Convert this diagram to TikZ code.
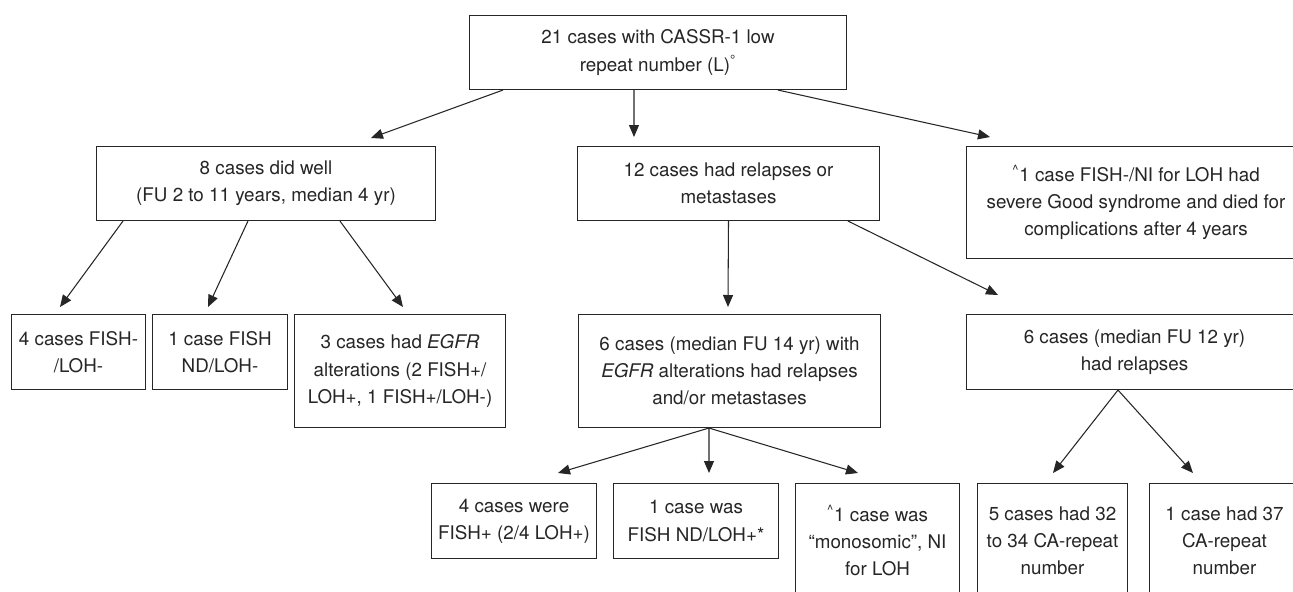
\documentclass[tikz,border=0pt]{standalone}
\usepackage{fontspec}
\setmainfont{TeX Gyre Heros}
\usetikzlibrary{arrows.meta}

\begin{document}
\begin{tikzpicture}[x=0.02cm, y=-0.02cm,
    box/.style={draw=black!85, line width=0.6pt, anchor=north west, align=center,
        inner xsep=2pt, text=black!85, font=\fontsize{10.7}{15.4}\selectfont},
    arr/.style={draw=black!85, line width=0.6pt, -{Triangle[length=0.24cm, width=0.2cm]}}]
    \fill[white] (0,0) rectangle (1293,591);
    \useasboundingbox (0,0) rectangle (1293,591);
    \clip (0,0) rectangle (1293,591);

    % top
    \node[box, minimum width=7.54cm, minimum height=1.48cm] (root) at (469,15) {21 cases with CASSR-1 low\\repeat number (L)\textsuperscript{\textdegree}};

    % second row
    \node[box, minimum width=6.78cm, minimum height=1.48cm] (well) at (96,146) {8 cases did well\\(FU 2 to 11 years, median 4 yr)};
    \node[box, minimum width=6.04cm, minimum height=1.48cm] (relmet) at (577,146) {12 cases had relapses or\\metastases};
    \node[box, minimum width=6.78cm, minimum height=2.24cm] (died) at (966,146) {\textsuperscript{\^{}}1 case FISH-/NI for LOH had\\severe Good syndrome and died for\\complications after 4 years};

    % third row
    \node[box, minimum width=2.68cm, minimum height=1.5cm] (fneg) at (11,314) {4 cases FISH-\\/LOH-};
    \node[box, minimum width=2.7cm, minimum height=1.5cm] (fnd) at (152,314) {1 case FISH\\ND/LOH-};
    \node[box, minimum width=4.22cm, minimum height=2.26cm] (egfrw) at (294,314) {3 cases had \textit{EGFR}\\alterations (2 FISH+/\\LOH+, 1 FISH+/LOH-)};
    \node[box, minimum width=6.04cm, minimum height=2.26cm] (egfrr) at (578,314) {6 cases (median FU 14 yr) with\\\textit{EGFR} alterations had relapses\\and/or metastases};
    \node[box, minimum width=6.72cm, minimum height=1.5cm] (relap) at (966,314) {6 cases (median FU 12 yr)\\had relapses};

    % bottom row
    \node[box, minimum width=3.3cm, minimum height=1.5cm] (fpos) at (431,483) {4 cases were\\FISH+ (2/4 LOH+)};
    \node[box, minimum width=3.3cm, minimum height=1.5cm] (fndp) at (613,483) {1 case was\\FISH ND/LOH+*};
    \node[box, minimum width=3.28cm, minimum height=2.28cm] (mono) at (795,483) {\textsuperscript{\^{}}1 case was\\“monosomic”, NI\\for LOH};
    \node[box, minimum width=3cm, minimum height=2.28cm] (rlow) at (977,483) {5 cases had 32\\to 34 CA-repeat\\number};
    \node[box, minimum width=3cm, minimum height=2.28cm] (rhigh) at (1149,483) {1 case had 37\\CA-repeat\\number};

    % arrows
    \draw[arr] ([xshift=0.68cm]root.south west) -- ([xshift=5.5cm, yshift=0.16cm]well.north west);
    \draw[arr] ([xshift=3.3cm]root.south west) -- ([xshift=1.14cm, yshift=0.18cm]relmet.north west);
    \draw[arr] ([xshift=6.18cm]root.south west) -- ([xshift=0.48cm, yshift=0.18cm]died.north west);

    \draw[arr] ([xshift=0.54cm]well.south west) -- ([xshift=0.98cm, yshift=0.14cm]fneg.north west);
    \draw[arr] ([xshift=3.04cm]well.south west) -- ([xshift=1.12cm, yshift=0.14cm]fnd.north west);
    \draw[arr] ([xshift=4.88cm]well.south west) -- ([xshift=2.18cm, yshift=0.14cm]egfrw.north west);

    \draw[arr] (relmet.south) -- ([xshift=3cm, yshift=0.14cm]egfrr.north west);
    \draw[arr] ([xshift=5.42cm]relmet.south west) -- ([xshift=0.64cm, yshift=0.38cm]relap.north west);

    \draw[arr] ([xshift=2.62cm]egfrr.south west) -- ([xshift=2.54cm, yshift=0.2cm]fpos.north west);
    \draw[arr] ([xshift=2.62cm]egfrr.south west) -- ([xshift=1.92cm, yshift=0.2cm]fndp.north west);
    \draw[arr] ([xshift=2.62cm]egfrr.south west) -- ([xshift=1.26cm, yshift=0.2cm]mono.north west);

    \draw[arr] ([xshift=3.04cm]relap.south west) -- ([xshift=1.52cm, yshift=0.2cm]rlow.north west);
    \draw[arr] ([xshift=3.04cm]relap.south west) -- ([xshift=0.88cm, yshift=0.2cm]rhigh.north west);
\end{tikzpicture}
\end{document}
